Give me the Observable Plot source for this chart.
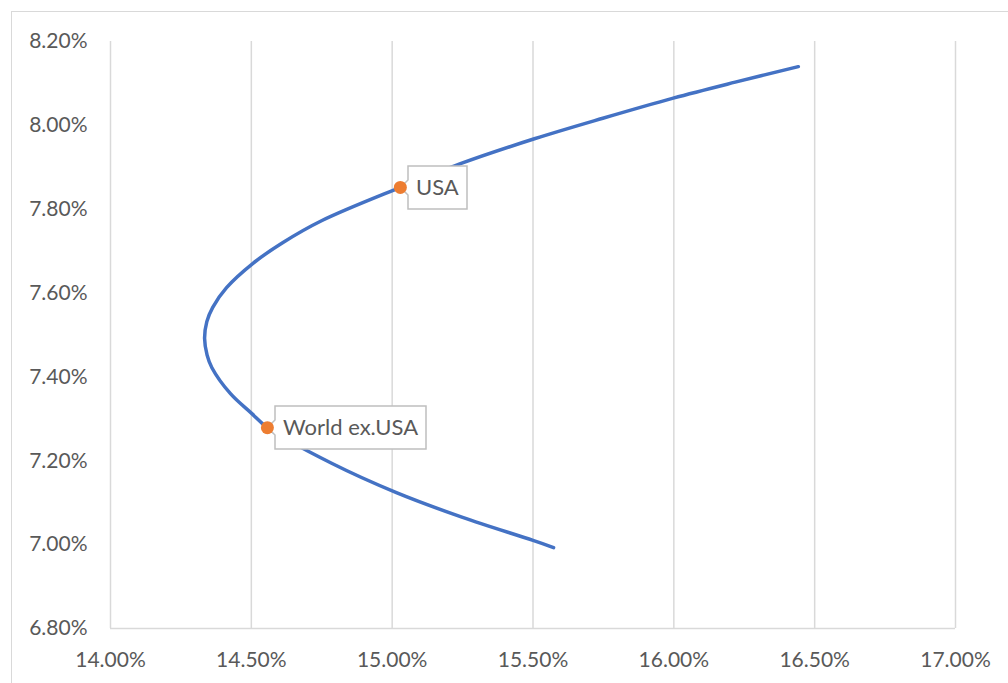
<!DOCTYPE html>
<html>
<head>
<meta charset="utf-8">
<script src="https://cdn.jsdelivr.net/npm/d3@7"></script>
<script src="https://cdn.jsdelivr.net/npm/@observablehq/plot@0.6"></script>
<style>
  html, body { margin: 0; padding: 0; background: #ffffff; overflow: hidden; }
  #wrap { position: relative; width: 1008px; height: 683px; }
  #frame { position: absolute; left: 11px; top: 11px; width: 1100px; height: 800px; border: 1.5px solid #d9d9d9; box-sizing: border-box; }
  #chart { position: absolute; left: 0; top: 0; }
</style>
</head>
<body>
<div id="wrap"><div id="frame"></div><div id="chart"></div></div>
<script>
// Efficient frontier: standard deviation (%) and expected return (%)
const frontierSigma = [15.573, 15.500, 15.250, 15.015, 14.785, 14.557, 14.501, 14.426, 14.360, 14.343, 14.334, 14.342, 14.363, 14.412, 14.506, 14.611, 14.751, 15.029, 15.240, 15.505, 15.748, 15.998, 16.218, 16.442];
const frontierReturn = [6.993, 7.010, 7.065, 7.124, 7.194, 7.279, 7.313, 7.360, 7.422, 7.452, 7.492, 7.532, 7.566, 7.613, 7.671, 7.720, 7.773, 7.852, 7.908, 7.968, 8.017, 8.065, 8.103, 8.140];

// Individual assets
const assetNames = ["USA", "World ex.USA"];
const assetSigma = [15.029, 14.557];
const assetReturn = [7.852, 7.279];

// Axis ticks
const xTicks = [14, 14.5, 15, 15.5, 16, 16.5, 17];
const yTicks = [6.8, 7.0, 7.2, 7.4, 7.6, 7.8, 8.0, 8.2];

const frontier = frontierSigma.map((s, i) => ({sigma: s, ret: frontierReturn[i]}));
const assets = assetNames.map((n, i) => ({name: n, sigma: assetSigma[i], ret: assetReturn[i]}));
const fmt = d => d.toFixed(2) + "%";

const chart = Plot.plot({
  width: 1008,
  height: 683,
  marginLeft: 110,
  marginRight: 53,
  marginTop: 41,
  marginBottom: 55,
  style: {fontFamily: "Lato, 'Liberation Sans', sans-serif", fontSize: "21px", color: "#595959", background: "transparent", overflow: "visible"},
  x: {domain: [14, 17], ticks: xTicks, tickFormat: fmt, tickSize: 0, tickPadding: 24, label: null},
  y: {domain: [6.8, 8.2], ticks: yTicks, tickFormat: fmt, tickSize: 0, tickPadding: 23, label: null},
  marks: [
    Plot.ruleX(xTicks, {stroke: "#d9d9d9", strokeWidth: 1.5}),
    Plot.ruleY([6.8], {stroke: "#d9d9d9", strokeWidth: 1.5}),
    Plot.line(frontier, {x: "sigma", y: "ret", stroke: "#4472C4", strokeWidth: 3.5, curve: "catmull-rom"}),
    Plot.tip(assets, {x: "sigma", y: "ret", title: "name", anchor: "left", fill: "white", stroke: "#bfbfbf", strokeWidth: 1.5, pathFilter: "none", fontSize: 22, textPadding: 8, pointerSize: 15}),
    Plot.dot(assets, {x: "sigma", y: "ret", r: 6.5, fill: "#ED7D31"})
  ]
});
document.getElementById("chart").appendChild(chart);
</script>
</body>
</html>
